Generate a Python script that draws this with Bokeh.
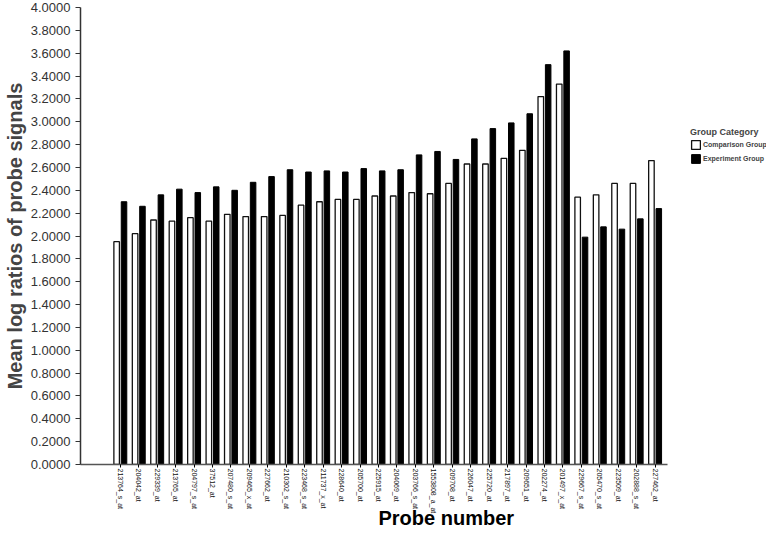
import math
from bokeh.plotting import figure
from bokeh.models import (Range1d, FixedTicker, NumeralTickFormatter, ColumnDataSource, Title)
from bokeh.transform import dodge
from bokeh.embed import file_html
from bokeh.resources import INLINE

probes = ["213764_s_at", "204042_at", "229339_at", "213765_at", "204797_s_at",
          "37512_at", "207480_s_at", "209465_x_at", "227662_at", "210302_s_at",
          "223468_s_at", "211737_x_at", "228640_at", "205700_at", "225915_at",
          "204069_at", "203766_s_at", "1553808_a_at", "209708_at", "226047_at",
          "225720_at", "217897_at", "209651_at", "202274_at", "201497_x_at",
          "229667_s_at", "205470_s_at", "223509_at", "202888_s_at", "227462_at"]
comparison = [1.95, 2.02, 2.14, 2.13, 2.16, 2.13, 2.19, 2.17, 2.17, 2.18,
              2.27, 2.30, 2.32, 2.32, 2.35, 2.35, 2.38, 2.37, 2.46, 2.63,
              2.63, 2.68, 2.75, 3.22, 3.33, 2.34, 2.36, 2.46, 2.46, 2.66]
experiment = [2.30, 2.26, 2.36, 2.41, 2.38, 2.43, 2.40, 2.47, 2.52, 2.58,
              2.56, 2.57, 2.56, 2.59, 2.57, 2.58, 2.71, 2.74, 2.67, 2.85,
              2.94, 2.99, 3.07, 3.50, 3.62, 1.99, 2.08, 2.06, 2.15, 2.24]
y_ticks = [0.0, 0.2, 0.4, 0.6, 0.8, 1.0, 1.2, 1.4, 1.6, 1.8, 2.0,
           2.2, 2.4, 2.6, 2.8, 3.0, 3.2, 3.4, 3.6, 3.8, 4.0]

pos = list(range(len(probes)))
src = ColumnDataSource(dict(pos=pos, probe=probes, comp=comparison, exp=experiment))

x_start = -2.16
x_axis_end = len(probes) - 1 + 0.65

p = figure(width=768, height=534, output_backend="svg", toolbar_location=None,
           x_range=Range1d(x_start, 35.04),
           y_range=Range1d(0, 4),
           min_border_left=80, min_border_right=2, min_border_top=7,
           min_border_bottom=70)
p.outline_line_color = None
p.xgrid.visible = False
p.ygrid.visible = False

p.vbar(x=dodge("pos", -0.2), top="comp", width=0.3, bottom=0,
       source=src, fill_color="white", line_color="#111111", line_width=1.3,
       legend_label="Comparison Group")
p.vbar(x=dodge("pos", 0.2), top="exp", width=0.3, bottom=0,
       source=src, fill_color="black", line_color="black", line_width=1,
       legend_label="Experiment Group")

# y axis
ya = p.yaxis[0]
ya.ticker = FixedTicker(ticks=y_ticks)
ya.formatter = NumeralTickFormatter(format="0.0000")
ya.axis_label = "Mean log ratios of probe signals"
ya.axis_label_text_font = "Liberation Sans"
ya.axis_label_text_font_style = "bold"
ya.axis_label_text_font_size = "20px"
ya.axis_label_standoff = 2
ya.major_label_text_font = "Liberation Sans"
ya.major_label_text_font_size = "13px"
ya.major_label_text_color = "#333333"
ya.major_label_standoff = 5
ya.major_tick_out = 5
ya.major_tick_in = 0
ya.minor_tick_out = 0
ya.minor_tick_in = 0
ya.axis_line_color = "#333333"
ya.axis_line_width = 1.5
ya.major_tick_line_color = "#333333"

# x axis
xa = p.xaxis[0]
xa.bounds = (x_start, x_axis_end)
xa.ticker = FixedTicker(ticks=pos)
xa.major_label_overrides = {i: name for i, name in zip(pos, probes)}
xa.major_label_orientation = -math.pi / 2
xa.major_label_text_font = "Liberation Sans"
xa.major_label_text_font_size = "7px"
xa.major_label_text_color = "#111111"
xa.major_label_standoff = 1
xa.major_tick_out = 3
xa.major_tick_in = 0
xa.minor_tick_out = 0
xa.minor_tick_in = 0
xa.axis_line_color = "#555555"
xa.axis_line_width = 1.5

xt = Title(text="Probe number", align="left", offset=298, standoff=-20,
           vertical_align="top",
           text_font="Liberation Sans", text_font_style="bold",
           text_font_size="20px", text_color="black")
p.add_layout(xt, "below")

lg = p.legend[0]
lg.title = "Group Category"
lg.title_text_font = "Liberation Sans"
lg.title_text_font_style = "bold"
lg.title_text_font_size = "9px"
lg.title_standoff = 2
lg.label_text_font = "Liberation Sans"
lg.label_text_font_style = "bold"
lg.label_text_font_size = "7px"
lg.glyph_width = 11
lg.glyph_height = 11
lg.label_height = 11
lg.label_standoff = 2
lg.spacing = 3
lg.padding = 0
lg.margin = 0
lg.border_line_color = None
lg.background_fill_alpha = 0
lg.location = (610, 300)

open("out.html", "w").write(file_html(p, INLINE))
